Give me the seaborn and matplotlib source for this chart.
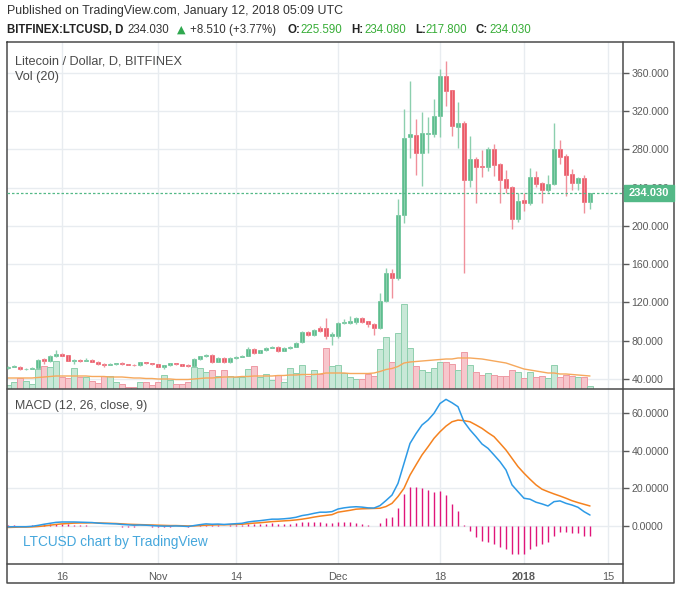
import numpy as np
import pandas as pd
import matplotlib
matplotlib.use("Agg")
import matplotlib.pyplot as plt
import seaborn as sns
from matplotlib.lines import Line2D
from matplotlib.patches import Rectangle

# ---------------- data ----------------
dates = pd.date_range("2017-10-07", "2018-01-12", freq="D")

open_ = [51.5, 52.5, 53.0, 50.0, 50.5, 51.0, 60.5, 59.0, 64.5, 66.5,
         65.0, 59.0, 60.0, 59.0, 60.0, 58.0, 56.0, 55.0, 56.0, 56.5,
         55.5, 55.0, 54.5, 57.5, 56.5, 55.5, 53.0, 54.5, 56.5, 55.5,
         55.0, 54.0, 61.0, 63.5, 65.0, 58.0, 62.0, 57.5, 61.5, 63.0,
         64.5, 71.0, 67.5, 70.0, 72.5, 73.5, 69.5, 72.0, 73.5, 78.5,
         89.5, 86.0, 93.5, 93.5, 84.5, 85.0, 98.5, 99.0, 100.0, 104.0,
         100.5, 98.0, 93.5, 122.0, 150.5, 145.5, 211.0, 293.5, 295.0, 276.5,
         296.5, 296.5, 314.5, 357.0, 342.0, 304.0, 307.5, 248.0, 270.0, 263.0,
         262.0, 280.5, 265.0, 249.0, 241.0, 207.5, 227.0, 224.5, 251.5, 245.0,
         237.5, 244.0, 280.0, 273.5, 254.0, 245.0, 250.5, 225.59]
high = [53.5, 54.5, 53.5, 51.5, 52.0, 61.0, 62.0, 65.5, 70.0, 67.5,
        65.5, 61.0, 60.5, 62.0, 61.0, 58.5, 56.5, 57.0, 57.0, 57.5,
        56.0, 55.5, 58.0, 58.0, 57.0, 56.0, 55.0, 57.0, 57.0, 56.0,
        55.5, 62.0, 64.0, 66.5, 66.0, 63.0, 63.0, 62.5, 64.0, 65.5,
        73.0, 72.0, 70.5, 73.0, 74.5, 74.0, 73.0, 74.5, 79.0, 90.0,
        90.5, 92.0, 95.0, 104.0, 89.0, 100.0, 103.0, 106.0, 105.0, 105.0,
        101.0, 99.0, 130.0, 156.0, 155.0, 228.0, 322.0, 352.0, 312.0, 319.5,
        314.0, 333.0, 364.0, 373.0, 342.5, 330.0, 310.0, 294.0, 272.5, 279.5,
        283.0, 285.5, 265.5, 258.5, 241.5, 235.0, 234.0, 261.0, 257.0, 245.5,
        253.0, 308.0, 290.0, 275.0, 260.0, 251.0, 253.0, 234.08]
low = [50.5, 52.0, 49.5, 49.5, 50.0, 50.5, 56.0, 58.0, 63.0, 63.5,
       58.5, 55.5, 58.0, 58.5, 57.5, 55.0, 53.0, 54.5, 55.0, 55.0,
       54.5, 54.0, 54.0, 56.0, 55.0, 52.5, 50.5, 54.0, 55.0, 53.5,
       53.0, 53.5, 60.0, 62.5, 57.0, 57.5, 56.5, 57.0, 61.0, 62.5,
       63.5, 66.0, 67.0, 69.5, 72.0, 68.5, 69.0, 71.5, 73.0, 78.0,
       85.0, 85.0, 89.0, 82.0, 75.5, 83.0, 97.0, 98.0, 98.0, 99.0,
       94.0, 86.0, 92.0, 120.0, 124.5, 143.0, 203.5, 271.0, 253.0, 242.0,
       276.5, 293.0, 293.0, 325.0, 294.0, 282.0, 151.0, 241.0, 224.0, 251.0,
       258.0, 252.0, 224.0, 235.0, 196.5, 204.5, 216.0, 222.0, 241.0, 224.0,
       236.0, 243.0, 265.0, 231.0, 238.0, 238.0, 214.0, 217.8]
close = [52.5, 53.0, 50.0, 50.5, 51.0, 60.0, 59.0, 64.5, 66.0, 64.5,
         59.0, 60.0, 59.0, 60.0, 58.0, 56.0, 55.0, 56.0, 56.5, 55.5,
         55.0, 54.5, 57.5, 56.5, 55.5, 53.0, 54.5, 56.5, 55.5, 54.0,
         53.5, 61.0, 63.5, 65.5, 58.0, 62.0, 57.5, 61.5, 63.0, 64.5,
         71.0, 67.5, 70.0, 72.5, 73.5, 69.5, 72.5, 73.5, 78.0, 89.5,
         86.0, 91.0, 90.5, 84.5, 87.0, 98.5, 100.0, 101.0, 104.0, 100.0,
         97.0, 93.5, 122.0, 150.5, 145.5, 211.5, 292.5, 296.0, 276.5, 297.0,
         297.5, 315.0, 357.0, 341.5, 305.0, 307.5, 248.0, 270.0, 262.0, 262.5,
         280.5, 264.0, 248.0, 240.0, 207.5, 226.0, 224.5, 251.5, 244.0, 237.5,
         244.0, 280.0, 272.0, 253.0, 245.0, 250.5, 225.5, 234.03]
volume = [4, 7, 11, 8, 5, 20, 23, 22, 28, 12,
          11, 21, 12, 12, 8, 6, 13, 13, 7, 5,
          2, 2, 7, 7, 4, 7, 14, 9, 5, 5,
          7, 22, 21, 17, 19, 13, 19, 13, 12, 12,
          20, 23, 12, 15, 9, 14, 7, 21, 16, 24,
          13, 19, 15, 41, 23, 24, 16, 12, 10, 10,
          15, 13, 40, 52, 27, 56, 85, 41, 23, 19,
          17, 21, 27, 27, 25, 19, 37, 24, 17, 14,
          16, 14, 13, 13, 19, 17, 11, 17, 12, 13,
          11, 24, 12, 14, 13, 12, 12, 3]
vol_ma = [11, 11, 11, 11, 11, 11.5, 12, 12.5, 13, 13,
          13, 13, 13, 13, 12.5, 12.5, 12.5, 12, 12, 12,
          11.5, 11, 11, 10.5, 10.5, 10, 10, 10, 9.5, 9.5,
          9.5, 10, 10.5, 11, 11, 11.5, 12, 12, 12, 12.5,
          12.5, 13, 13, 13, 13, 13.5, 13.5, 14, 14, 14.5,
          14.5, 14.5, 15, 16, 16, 16, 16, 15.5, 15.5, 15.5,
          15.5, 16, 17.5, 19.5, 20.5, 22.5, 26, 27, 27.5, 28,
          28.5, 29, 29.5, 30, 30, 31, 31, 31, 30.5, 30,
          29, 28, 27, 26, 24, 22, 20, 19, 18, 17,
          16, 16, 15, 15, 14.5, 14, 13.5, 13]
macd = [-0.5, -0.4, -0.4, -0.4, -0.2, 0.3, 0.9, 1.4, 1.9, 2.1,
        2.1, 2.1, 2.0, 1.9, 1.8, 1.5, 1.3, 1.2, 1.1, 0.8,
        0.6, 0.4, 0.5, 0.4, 0.2, 0.0, -0.1, -0.1, 0.0, -0.1,
        -0.3, 0.2, 0.7, 1.1, 0.9, 1.0, 0.8, 1.0, 1.2, 1.4,
        2.1, 2.5, 2.8, 3.2, 3.6, 3.6, 3.8, 4.1, 4.6, 5.5,
        6.0, 6.7, 7.3, 7.3, 7.6, 9.0, 9.6, 10.0, 10.2, 10.0,
        9.6, 9.5, 10.8, 13.5, 16.4, 22.6, 33.2, 43.8, 49.0, 53.6,
        56.2, 59.8, 65.0, 67.2, 65.4, 63.3, 55.3, 51.0, 47.4, 43.5,
        41.2, 37.7, 34.1, 29.7, 21.8, 18.2, 14.7, 14.2, 12.6, 11.7,
        10.6, 12.9, 13.3, 12.0, 11.1, 9.9, 7.6, 5.8]
signal = [-0.8, -0.7, -0.6, -0.6, -0.5, -0.3, 0.0, 0.4, 0.8, 1.1,
          1.3, 1.5, 1.6, 1.6, 1.7, 1.6, 1.5, 1.4, 1.3, 1.1,
          0.9, 0.8, 0.7, 0.6, 0.5, 0.4, 0.3, 0.2, 0.2, 0.1,
          0.0, 0.0, 0.2, 0.4, 0.5, 0.6, 0.6, 0.7, 0.8, 0.9,
          1.2, 1.5, 1.7, 2.0, 2.3, 2.5, 2.7, 2.9, 3.2, 3.6,
          4.1, 4.7, 5.2, 5.6, 6.0, 7.3, 7.8, 8.3, 8.9, 9.1,
          9.2, 9.3, 9.4, 10.3, 12.0, 15.6, 20.0, 27.0, 32.4, 37.7,
          42.0, 46.5, 50.0, 53.0, 55.3, 56.2, 55.9, 55.3, 53.6, 51.8,
          49.5, 47.4, 43.9, 40.3, 35.9, 31.5, 28.0, 24.8, 21.8, 19.5,
          18.2, 17.0, 15.9, 14.7, 13.4, 12.4, 11.5, 10.6]
hist = [0.3, 0.3, 0.2, 0.2, 0.3, 0.6, 0.9, 1.0, 1.1, 1.0,
        0.8, 0.6, 0.4, 0.3, 0.1, -0.1, -0.2, -0.2, -0.2, -0.3,
        -0.3, -0.4, -0.2, -0.2, -0.3, -0.4, -0.4, -0.3, -0.2, -0.2,
        -0.3, 0.2, 0.5, 0.7, 0.4, 0.4, 0.2, 0.3, 0.4, 0.5,
        0.9, 1.0, 1.1, 1.2, 1.3, 1.1, 1.1, 1.2, 1.4, 1.9,
        1.9, 2.0, 2.1, 1.7, 1.6, 2.0, 2.0, 1.9, 1.4, 0.8,
        0.3, 0.2, 1.6, 4.0, 5.0, 9.4, 16.8, 20.7, 20.7, 20.2,
        19.1, 18.2, 18.6, 16.4, 11.5, 8.0, 0.3, -2.5, -5.7, -7.8,
        -8.3, -9.5, -11.0, -12.0, -14.9, -14.9, -14.9, -12.0, -10.6, -9.5,
        -8.3, -5.3, -3.0, -3.0, -4.0, -4.0, -5.3, -5.3]

price_ticks = [40, 80, 120, 160, 200, 240, 280, 320, 360]
macd_ticks = [0, 20, 40, 60]
date_tick_dates = ["2017-10-16", "2017-11-01", "2017-11-14", "2017-12-01",
                   "2017-12-18", "2018-01-01", "2018-01-15"]
date_tick_labels = ["16", "Nov", "14", "Dec", "18", "2018", "15"]
last_price = 234.03

# ---------------- styling ----------------
sns.set_theme(style="white")
plt.rcParams["font.family"] = ["Liberation Sans", "DejaVu Sans"]

UP = "#53b987"
DOWN = "#eb4d5c"
GRID = "#e8ecf0"
FRAME = "#4a4a4a"
TXT = "#4a4a4a"
AX = "#5a5a5a"

W, H = 681, 590
fig = plt.figure(figsize=(W / 100, H / 100), dpi=100)
fig.patch.set_facecolor("white")


def box(l, t, r, b):
    return [l / W, 1 - b / H, (r - l) / W, (b - t) / H]


def ftext(px, py, s, **kw):
    return fig.text(px / W, 1 - py / H, s, **kw)


x = np.asarray((dates - dates[0]).days, dtype=float)
o = np.asarray(open_)
c = np.asarray(close)
up = c >= o
xt = np.asarray((pd.to_datetime(date_tick_dates) - dates[0]).days, dtype=float)
XLIM = (-1 / 6, 615 / 6)
PLIM = (29.5, 392.4)
MLIM = (-20.2, 72.7)

# background grid axes for price pane
ax_bg = fig.add_axes(box(7, 42, 623, 389))
ax_bg.set_xlim(*XLIM)
ax_bg.set_ylim(*PLIM)
ax_bg.set_xticks(xt)
ax_bg.set_yticks(price_ticks)
ax_bg.grid(True, color=GRID, lw=1)
ax_bg.tick_params(axis="x", length=0, labelbottom=False)
ax_bg.yaxis.tick_right()
ax_bg.tick_params(axis="y", length=4, width=1, color=AX, pad=2,
                  labelsize=7.6, labelcolor=AX)
ax_bg.set_yticklabels([f"{v:.3f}" for v in price_ticks])
for s in ax_bg.spines.values():
    s.set_visible(False)
ax_bg.set_zorder(0)

# volume axes
ax_v = fig.add_axes(box(7, 42, 623, 389))
ax_v.set_xlim(*XLIM)
ax_v.set_ylim(0, 347)
ax_v.patch.set_visible(False)
ax_v.axis("off")
ax_v.set_zorder(1)
vfill = np.where(up, "#c8e8d7", "#f7c6cc")
vedge = np.where(up, "#8fcfae", "#ee9aa4")
ax_v.bar(x, volume, width=0.86, color=vfill, edgecolor=vedge, linewidth=0.7)
sns.lineplot(x=x, y=vol_ma, ax=ax_v, color="#f6a85c", lw=1.0, legend=False)

# price axes
ax_p = fig.add_axes(box(7, 42, 623, 389))
ax_p.set_xlim(*XLIM)
ax_p.set_ylim(*PLIM)
ax_p.patch.set_visible(False)
ax_p.axis("off")
ax_p.set_zorder(2)
col = np.where(up, UP, DOWN)
wick = np.where(up, "#8ccfae", "#f0909b")
ax_p.vlines(x, low, high, colors=wick, lw=1.0)
body = c - o
body = np.where(np.abs(body) < 0.9, np.where(up, 0.9, -0.9), body)
ax_p.bar(x, body, bottom=o, width=0.7, color=col, edgecolor=col, linewidth=0.4)
ax_p.axhline(last_price, color=UP, lw=0.9, ls=(0, (2, 1.6)))

# MACD axes
ax_m = fig.add_axes(box(7, 389, 623, 564))
ax_m.set_xlim(*XLIM)
ax_m.set_ylim(*MLIM)
ax_m.set_xticks(xt)
ax_m.set_xticklabels(date_tick_labels)
ax_m.set_yticks(macd_ticks)
ax_m.set_yticklabels([f"{v:.4f}" for v in macd_ticks])
ax_m.grid(True, color=GRID, lw=1)
ax_m.yaxis.tick_right()
ax_m.tick_params(axis="y", length=4, width=1, color=AX, pad=2,
                 labelsize=7.6, labelcolor=AX)
ax_m.tick_params(axis="x", length=0, pad=5.5, labelsize=7.8, labelcolor=AX)
for lab in ax_m.get_xticklabels():
    if lab.get_text() == "2018":
        lab.set_fontweight("bold")
for s in ax_m.spines.values():
    s.set_visible(False)
ax_m.vlines(x, 0, hist, colors="#e0157a", lw=1.0)
sns.lineplot(x=x, y=signal, ax=ax_m, color="#f5821f", lw=1.1, legend=False)
sns.lineplot(x=x, y=macd, ax=ax_m, color="#2d9ae6", lw=1.1, legend=False)
ax_m.set_xlabel("")
ax_m.set_ylabel("")

# ---------------- frame ----------------
def fline(xs, ys, lw=1.1):
    fig.add_artist(Line2D([v / W for v in xs], [1 - v / H for v in ys],
                          color=FRAME, lw=lw, transform=fig.transFigure))

fline([7, 674, 674, 7, 7], [42, 42, 583, 583, 42])
fline([623, 623], [42, 583])
fline([7, 674], [389, 389])
fline([7, 623], [564, 564])

# last price label (covers the 240 tick label, as in the original)
fig.add_artist(Rectangle((624 / W, 1 - 201 / H), 50 / W, 16 / H,
                         transform=fig.transFigure, color=UP, zorder=5))
ftext(649, 193.5, f"{last_price:.3f}", color="white", fontsize=8,
      fontweight="bold", ha="center", va="center", zorder=6)

# ---------------- texts ----------------
ftext(7, 11, "Published on TradingView.com, January 12, 2018 05:09 UTC",
      fontsize=8.9, color="#333333", va="center", ha="left")
y2 = 30
HS = 8.3
ftext(7, y2, "BITFINEX:LTCUSD, D", fontsize=HS, fontweight="bold",
      color="#222222", va="center")
ftext(127, y2, "234.030", fontsize=HS, color="#333333", va="center")
ftext(177, y2 - 0.5, "\u25B2", fontsize=8, color="#2fa84f",
      family=["DejaVu Sans"], va="center")
ftext(190, y2, "+8.510 (+3.77%)", fontsize=HS, color="#333333", va="center")
GV = "#37ad37"
for lx, lab, vx, val in [(287, "O:", 300, "225.590"), (351, "H:", 364, "234.080"),
                         (415, "L:", 425, "217.800"), (476, "C:", 489, "234.030")]:
    ftext(lx, y2, lab, fontsize=HS, fontweight="bold", color="#222222",
          va="center")
    ftext(vx, y2, val, fontsize=HS, color=GV, va="center")

ftext(15, 61, "Litecoin / Dollar, D, BITFINEX", fontsize=9.2, color=TXT,
      va="center")
ftext(15, 77, "Vol (20)", fontsize=9.2, color=TXT, va="center")
ftext(15, 406, "MACD (12, 26, close, 9)", fontsize=8.9, color=TXT,
      va="center")
ftext(23, 542, "LTCUSD chart by TradingView", fontsize=9.8, color="#45a7dc",
      va="center")

fig.savefig("out.png", dpi=100, facecolor="white")
